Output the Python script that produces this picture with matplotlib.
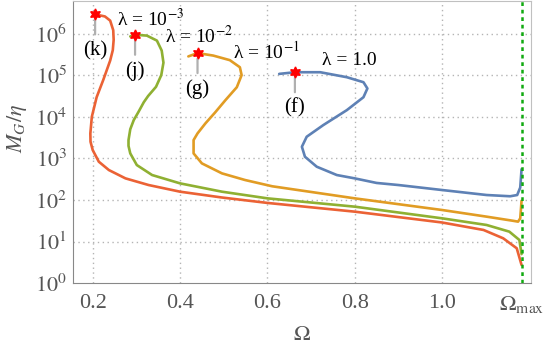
import numpy as np
import matplotlib
matplotlib.use("Agg")
import matplotlib.pyplot as plt

# ---- data (Omega, log10 of M_G/eta) ----
omega_f = [0.627, 0.663, 0.721, 0.782, 0.820, 0.829, 0.820, 0.782, 0.728, 0.690,
           0.679, 0.686, 0.713, 0.759, 0.800, 0.850, 0.900, 1.000, 1.102, 1.156,
           1.172, 1.179, 1.182]
logM_f = [5.03, 5.07, 5.07, 4.95, 4.83, 4.68, 4.47, 4.16, 3.80, 3.52,
          3.28, 3.04, 2.80, 2.60, 2.52, 2.41, 2.36, 2.24, 2.12, 2.09,
          2.12, 2.30, 2.74]

omega_g = [0.419, 0.440, 0.476, 0.514, 0.537, 0.541, 0.530, 0.504, 0.480, 0.458,
           0.440, 0.431, 0.431, 0.450, 0.496, 0.549, 0.611, 0.800, 1.000, 1.102,
           1.163, 1.174, 1.179, 1.182]
logM_g = [5.45, 5.53, 5.47, 5.36, 5.19, 5.00, 4.71, 4.40, 4.10, 3.84,
          3.60, 3.44, 3.12, 2.88, 2.64, 2.48, 2.33, 2.04, 1.76, 1.60,
          1.50, 1.48, 1.56, 1.98]

omega_j = [0.286, 0.297, 0.324, 0.347, 0.358, 0.362, 0.357, 0.345, 0.327, 0.317,
           0.305, 0.294, 0.286, 0.282, 0.282, 0.286, 0.301, 0.336, 0.400, 0.496,
           0.600, 0.800, 1.000, 1.102, 1.154, 1.177, 1.182]
logM_j = [5.93, 5.97, 5.95, 5.83, 5.59, 5.30, 5.00, 4.72, 4.50, 4.35,
          4.12, 3.92, 3.70, 3.44, 3.30, 3.12, 2.84, 2.60, 2.40, 2.20,
          2.04, 1.84, 1.56, 1.40, 1.24, 1.04, 0.70]

omega_k = [0.2055, 0.228, 0.240, 0.247, 0.248, 0.246, 0.240, 0.224, 0.209, 0.198,
           0.1946, 0.195, 0.200, 0.214, 0.237, 0.275, 0.328, 0.400, 0.496, 0.600,
           0.800, 1.000, 1.095, 1.140, 1.171, 1.182]
logM_k = [6.46, 6.41, 6.31, 6.08, 5.85, 5.60, 5.35, 4.88, 4.47, 4.00,
          3.60, 3.40, 3.20, 2.92, 2.72, 2.52, 2.36, 2.20, 2.06, 1.93,
          1.72, 1.46, 1.28, 1.08, 0.84, 0.44]

star_omega = [0.2055, 0.297, 0.440, 0.663]
star_logM = [6.46, 5.97, 5.53, 5.07]
star_labels = ["(k)", "(j)", "(g)", "(f)"]

lambda_labels = [r"λ = 10$^{-3}$", r"λ = 10$^{-2}$", r"λ = 10$^{-1}$", "λ = 1.0"]
lambda_omega = [0.255, 0.366, 0.522, 0.724]
lambda_logM = [6.19, 5.76, 5.40, 5.24]

OMEGA_MAX = 1.182
x_ticks = [0.2, 0.4, 0.6, 0.8, 1.0, OMEGA_MAX]
x_ticklabels = ["0.2", "0.4", "0.6", "0.8", "1.0", r"$\Omega_{\rm max}$"]
y_exps = [0, 1, 2, 3, 4, 5, 6]

colors = ["#5e81b5", "#e19c24", "#8fb032", "#eb6235"]

plt.rcParams["font.family"] = ["Liberation Serif", "DejaVu Serif"]
plt.rcParams["mathtext.fontset"] = "stix"

fig = plt.figure(figsize=(5.45, 3.51), dpi=100)
ax = fig.add_axes([0.1334, 0.193, 0.8400, 0.804])

curves = [(omega_f, logM_f), (omega_g, logM_g), (omega_j, logM_j), (omega_k, logM_k)]
for (om, lm), c in zip(curves, colors):
    ax.plot(om, 10 ** np.array(lm), color=c, lw=1.9, solid_capstyle="round",
            solid_joinstyle="round", zorder=3)

ax.axvline(OMEGA_MAX, color="#11aa11", lw=1.8, ls=(0, (1.5, 1.5)), zorder=4)

ax.set_yscale("log")
ax.set_xlim(0.1542, 1.2025)
ax.set_ylim(1, 10 ** 6.78)

ax.set_xticks(x_ticks)
ax.set_xticklabels(x_ticklabels)
ax.set_yticks([10.0 ** e for e in y_exps])
ax.set_yticklabels([r"$10^{%d}$" % e for e in y_exps])
ax.yaxis.set_minor_locator(matplotlib.ticker.NullLocator())

ax.tick_params(axis="both", which="both", direction="in", length=0,
               labelsize=16, labelcolor="#555555", colors="#888888")
ax.tick_params(axis="x", pad=8)
ax.tick_params(axis="y", pad=4)

for tx in x_ticks[:-1]:
    ax.axvline(tx, color="#b4b4b4", lw=1.0, ls=(0, (1, 2.5)), zorder=1)
for e in y_exps[1:]:
    ax.axhline(10.0 ** e, color="#b4b4b4", lw=1.0, ls=(0, (1, 2.5)), zorder=1)

for side in ["left", "bottom"]:
    ax.spines[side].set_color("#888888")
for side in ["top", "right"]:
    ax.spines[side].set_color("#c0c0c0")

for om, lm, lab in zip(star_omega, star_logM, star_labels):
    y = 10 ** lm
    ax.annotate("", xy=(om, y), xytext=(0, -20), textcoords="offset pixels",
                arrowprops=dict(arrowstyle="-", color="#b0b0b0", lw=1.6,
                                shrinkA=0, shrinkB=4))
    ax.annotate(lab, xy=(om, y), xytext=(0, -36), textcoords="offset pixels",
                ha="center", va="center", fontsize=15, color="black")
    ax.plot(om, y, marker=(6, 1, 0), color="red", ms=8, mec="red", zorder=5)

for lab, om, lm in zip(lambda_labels, lambda_omega, lambda_logM):
    ax.text(om, 10 ** lm, lab, ha="left", va="baseline", fontsize=14, color="black")

ax.set_xlabel(r"$\Omega$", fontsize=16, color="#555555")
ax.set_ylabel(r"$M_G/\eta$", fontsize=16, color="#555555")
ax.xaxis.set_label_coords(0.5, -0.15)
ax.yaxis.set_label_coords(-0.095, 0.55)

fig.savefig("out.png", dpi=100)
